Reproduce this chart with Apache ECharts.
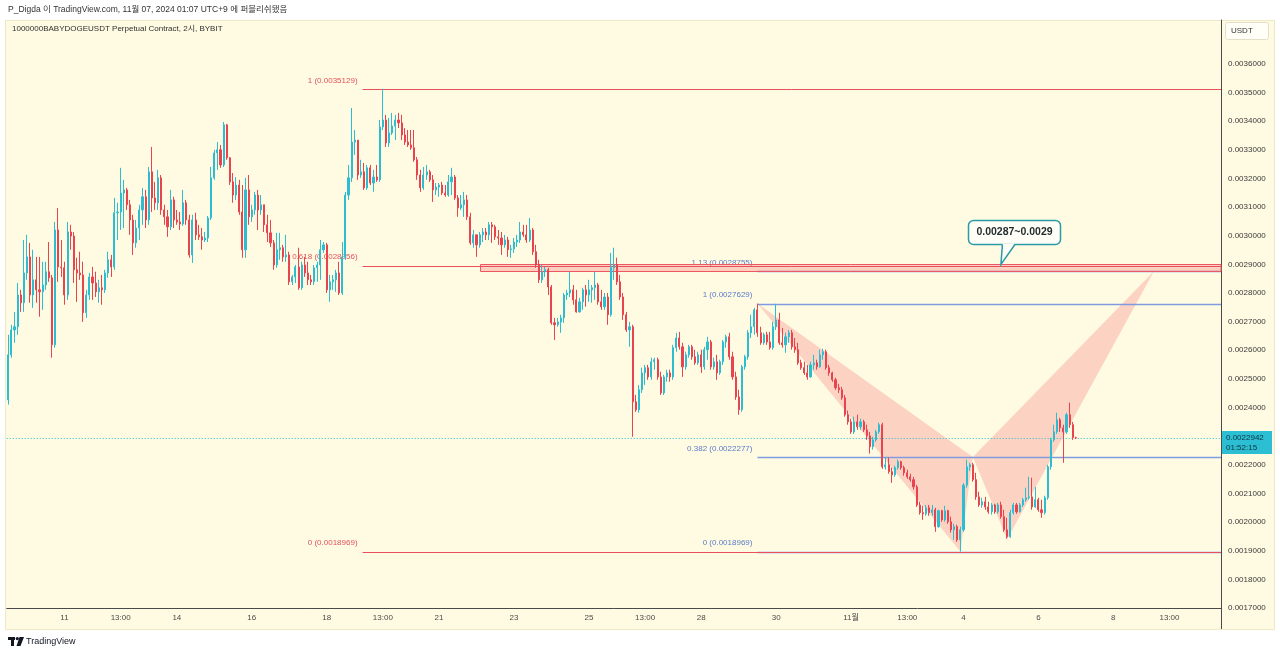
<!DOCTYPE html>
<html lang="ko">
<head>
<meta charset="utf-8">
<title>1000000BABYDOGEUSDT Perpetual Contract</title>
<script src="https://cdn.jsdelivr.net/npm/echarts@6.0.0/dist/echarts.min.js"></script>
<style>
html,body{margin:0;padding:0;width:1280px;height:654px;background:#ffffff;overflow:hidden;}
#frame{position:absolute;left:5px;top:20px;width:1270px;height:610px;background:#fffbe2;border:1px solid #efe9c8;box-sizing:border-box;}
#chart{position:absolute;left:0;top:0;width:1280px;height:654px;}
</style>
</head>
<body>
<div id="frame"></div>
<div id="chart"></div>
<script>
// ================= DATA =================
// 2-hour candles (UTC+9), first bar 2024-10-09 13:00, last bar 2024-11-07 01:00
const firstBarTime = [2024, 10, 9, 13];   // year, month, day, hour
const padBars = 46;                        // empty bars on the right side of the chart

const opens = [
0.002427,0.002584,0.002671,0.002682,0.002793,0.002766,0.002870,0.002926,0.002793,0.002846,
0.002811,0.002804,0.002828,0.002874,0.002853,0.002619,0.003020,0.002891,0.002888,0.002793,
0.003013,0.002999,0.002881,0.002870,0.002863,0.002731,0.002793,0.002856,0.002835,0.002804,
0.002818,0.002811,0.002870,0.002916,0.002891,0.003080,0.003083,0.003149,0.003160,0.003108,
0.003055,0.002975,0.003027,0.003090,0.003136,0.003055,0.003223,0.003132,0.003115,0.003202,
0.003090,0.003066,0.003031,0.003125,0.003055,0.003048,0.003041,0.003115,0.003055,0.002933,
0.003055,0.003003,0.002996,0.002985,0.002992,0.003062,0.003202,0.003289,0.003300,0.003247,
0.003387,0.003272,0.003188,0.003142,0.003177,0.003083,0.002951,0.003160,0.003066,0.003090,
0.003142,0.003090,0.003108,0.003038,0.003010,0.002975,0.002898,0.002951,0.002958,0.002926,
0.002933,0.002839,0.002856,0.002891,0.002818,0.002898,0.002870,0.002846,0.002839,0.002888,
0.002898,0.002951,0.002968,0.002811,0.002839,0.002846,0.002870,0.002800,0.002926,0.003142,
0.003202,0.003327,0.003334,0.003212,0.003223,0.003167,0.003237,0.003184,0.003205,0.003195,
0.003380,0.003404,0.003324,0.003359,0.003383,0.003404,0.003394,0.003352,0.003327,0.003317,
0.003307,0.003265,0.003212,0.003167,0.003212,0.003223,0.003195,0.003160,0.003170,0.003177,
0.003149,0.003142,0.003188,0.003205,0.003132,0.003097,0.003108,0.003125,0.003066,0.002975,
0.003003,0.002968,0.003003,0.003013,0.003003,0.003038,0.003031,0.002996,0.002992,0.002968,
0.002985,0.002951,0.002954,0.002978,0.002985,0.003013,0.003003,0.002985,0.003020,0.002944,
0.002898,0.002846,0.002874,0.002881,0.002821,0.002696,0.002689,0.002699,0.002713,0.002793,
0.002800,0.002811,0.002776,0.002734,0.002769,0.002811,0.002793,0.002811,0.002818,0.002828,
0.002769,0.002752,0.002786,0.002724,0.002888,0.002898,0.002839,0.002786,0.002724,0.002671,
0.002682,0.002420,0.002392,0.002462,0.002521,0.002539,0.002507,0.002560,0.002567,0.002507,
0.002451,0.002507,0.002521,0.002507,0.002609,0.002643,0.002612,0.002542,0.002584,0.002612,
0.002577,0.002556,0.002584,0.002542,0.002602,0.002629,0.002542,0.002560,0.002521,0.002560,
0.002629,0.002647,0.002577,0.002507,0.002437,0.002392,0.002542,0.002577,0.002661,0.002682,
0.002741,0.002661,0.002626,0.002654,0.002629,0.002609,0.002682,0.002706,0.002626,0.002619,
0.002647,0.002661,0.002612,0.002602,0.002556,0.002539,0.002521,0.002507,0.002549,0.002556,
0.002542,0.002584,0.002595,0.002539,0.002521,0.002497,0.002469,0.002462,0.002434,0.002375,
0.002350,0.002315,0.002350,0.002333,0.002350,0.002322,0.002301,0.002263,0.002287,0.002315,
0.002340,0.002193,0.002200,0.002176,0.002165,0.002190,0.002211,0.002190,0.002172,0.002158,
0.002148,0.002123,0.002060,0.002033,0.002029,0.002050,0.002033,0.002043,0.001984,0.002040,
0.002008,0.002040,0.002001,0.001973,0.001984,0.001938,0.001973,0.002129,0.002193,0.002200,
0.002148,0.002088,0.002060,0.002071,0.002053,0.002036,0.002060,0.002036,0.002060,0.002019,
0.001973,0.001949,0.002033,0.002060,0.002036,0.002060,0.002078,0.002085,0.002088,0.002053,
0.002078,0.002043,0.002033,0.002085,0.002193,0.002287,0.002315,0.002357,0.002329,0.002315,
0.002375,0.002340,0.002295];

const closes = [
0.002584,0.002671,0.002682,0.002793,0.002766,0.002870,0.002926,0.002793,0.002846,0.002811,
0.002804,0.002828,0.002874,0.002853,0.002619,0.003020,0.002891,0.002888,0.002793,0.003013,
0.002999,0.002881,0.002870,0.002863,0.002731,0.002793,0.002856,0.002835,0.002804,0.002818,
0.002811,0.002870,0.002916,0.002891,0.003080,0.003083,0.003149,0.003160,0.003108,0.003055,
0.002975,0.003027,0.003090,0.003136,0.003055,0.003223,0.003132,0.003115,0.003202,0.003090,
0.003066,0.003031,0.003125,0.003055,0.003048,0.003041,0.003115,0.003055,0.002933,0.003055,
0.003003,0.002996,0.002985,0.002992,0.003062,0.003202,0.003289,0.003300,0.003247,0.003387,
0.003272,0.003188,0.003142,0.003177,0.003083,0.002951,0.003160,0.003066,0.003090,0.003142,
0.003090,0.003108,0.003038,0.003010,0.002975,0.002898,0.002951,0.002958,0.002926,0.002933,
0.002839,0.002856,0.002891,0.002818,0.002898,0.002870,0.002846,0.002839,0.002888,0.002898,
0.002951,0.002968,0.002811,0.002839,0.002846,0.002870,0.002800,0.002926,0.003142,0.003202,
0.003327,0.003334,0.003212,0.003223,0.003167,0.003237,0.003184,0.003205,0.003195,0.003380,
0.003404,0.003324,0.003359,0.003383,0.003404,0.003394,0.003352,0.003327,0.003317,0.003307,
0.003265,0.003212,0.003167,0.003212,0.003223,0.003195,0.003160,0.003170,0.003177,0.003149,
0.003142,0.003188,0.003205,0.003132,0.003097,0.003108,0.003125,0.003066,0.002975,0.003003,
0.002968,0.003003,0.003013,0.003003,0.003038,0.003031,0.002996,0.002992,0.002968,0.002985,
0.002951,0.002954,0.002978,0.002985,0.003013,0.003003,0.002985,0.003020,0.002944,0.002898,
0.002846,0.002874,0.002881,0.002821,0.002696,0.002689,0.002699,0.002713,0.002793,0.002800,
0.002811,0.002776,0.002734,0.002769,0.002811,0.002793,0.002811,0.002818,0.002828,0.002769,
0.002752,0.002786,0.002724,0.002888,0.002898,0.002839,0.002786,0.002724,0.002671,0.002682,
0.002420,0.002392,0.002462,0.002521,0.002539,0.002507,0.002560,0.002567,0.002507,0.002451,
0.002507,0.002521,0.002507,0.002609,0.002643,0.002612,0.002542,0.002584,0.002612,0.002577,
0.002556,0.002584,0.002542,0.002602,0.002629,0.002542,0.002560,0.002521,0.002560,0.002629,
0.002647,0.002577,0.002507,0.002437,0.002392,0.002542,0.002577,0.002661,0.002682,0.002741,
0.002661,0.002626,0.002654,0.002629,0.002609,0.002682,0.002706,0.002626,0.002619,0.002647,
0.002661,0.002612,0.002602,0.002556,0.002539,0.002521,0.002507,0.002549,0.002556,0.002542,
0.002584,0.002595,0.002539,0.002521,0.002497,0.002469,0.002462,0.002434,0.002375,0.002350,
0.002315,0.002350,0.002333,0.002350,0.002322,0.002301,0.002263,0.002287,0.002315,0.002340,
0.002193,0.002200,0.002176,0.002165,0.002190,0.002211,0.002190,0.002172,0.002158,0.002148,
0.002123,0.002060,0.002033,0.002029,0.002050,0.002033,0.002043,0.001984,0.002040,0.002008,
0.002040,0.002001,0.001973,0.001984,0.001938,0.001973,0.002129,0.002193,0.002200,0.002148,
0.002088,0.002060,0.002071,0.002053,0.002036,0.002060,0.002036,0.002060,0.002019,0.001973,
0.001949,0.002033,0.002060,0.002036,0.002060,0.002078,0.002085,0.002088,0.002053,0.002078,
0.002043,0.002033,0.002085,0.002193,0.002287,0.002315,0.002357,0.002329,0.002315,0.002375,
0.002340,0.002295,0.0022942];

const highs = [
0.002654,0.002689,0.002734,0.002835,0.002811,0.002985,0.003003,0.002975,0.002951,0.002926,
0.002926,0.002909,0.002909,0.002978,0.002863,0.003048,0.003097,0.002985,0.002909,0.003048,
0.003038,0.003013,0.002923,0.002944,0.002909,0.002811,0.002870,0.002891,0.002874,0.002846,
0.002863,0.002881,0.002944,0.002933,0.003132,0.003115,0.003237,0.003195,0.003167,0.003125,
0.003073,0.003055,0.003108,0.003167,0.003160,0.003240,0.003310,0.003188,0.003230,0.003212,
0.003108,0.003090,0.003160,0.003136,0.003090,0.003083,0.003160,0.003125,0.003073,0.003073,
0.003080,0.003038,0.003027,0.003013,0.003069,0.003240,0.003300,0.003327,0.003317,0.003397,
0.003390,0.003275,0.003219,0.003205,0.003195,0.003177,0.003202,0.003212,0.003108,0.003153,
0.003160,0.003142,0.003108,0.003073,0.003055,0.002985,0.003010,0.003010,0.002968,0.003003,
0.002944,0.002863,0.002898,0.002958,0.002909,0.002926,0.002909,0.002863,0.002898,0.002909,
0.002985,0.002978,0.002975,0.002863,0.002863,0.002881,0.002909,0.002978,0.003153,0.003247,
0.003446,0.003369,0.003334,0.003265,0.003254,0.003247,0.003247,0.003230,0.003247,0.003404,
0.0035129,0.003422,0.003411,0.003429,0.003422,0.003429,0.003422,0.003376,0.003369,0.003369,
0.003369,0.003275,0.003230,0.003240,0.003247,0.003230,0.003212,0.003184,0.003184,0.003188,
0.003177,0.003212,0.003237,0.003212,0.003142,0.003142,0.003153,0.003142,0.003080,0.003020,
0.003003,0.003013,0.003027,0.003027,0.003048,0.003048,0.003038,0.003020,0.003013,0.003003,
0.002996,0.002968,0.002992,0.003003,0.003048,0.003038,0.003038,0.003062,0.003027,0.002968,
0.002916,0.002898,0.002891,0.002888,0.002828,0.002713,0.002713,0.002724,0.002800,0.002811,
0.002874,0.002828,0.002811,0.002783,0.002818,0.002828,0.002846,0.002828,0.002874,0.002835,
0.002811,0.002800,0.002800,0.002940,0.002958,0.002923,0.002863,0.002800,0.002734,0.002699,
0.002689,0.002444,0.002479,0.002539,0.002549,0.002549,0.002574,0.002574,0.002574,0.002525,
0.002514,0.002532,0.002532,0.002619,0.002661,0.002664,0.002626,0.002595,0.002619,0.002619,
0.002602,0.002595,0.002602,0.002612,0.002647,0.002636,0.002574,0.002584,0.002567,0.002636,
0.002654,0.002661,0.002595,0.002525,0.002462,0.002549,0.002584,0.002671,0.002724,0.002748,
0.0027629,0.002682,0.002661,0.002664,0.002664,0.002699,0.002762,0.002731,0.002678,0.002661,
0.002671,0.002671,0.002643,0.002626,0.002567,0.002560,0.002549,0.002560,0.002584,0.002567,
0.002602,0.002605,0.002602,0.002549,0.002525,0.002504,0.002483,0.002472,0.002444,0.002389,
0.002361,0.002368,0.002375,0.002361,0.002357,0.002340,0.002315,0.002298,0.002322,0.002347,
0.002347,0.002225,0.002225,0.002190,0.002197,0.002218,0.002214,0.002197,0.002183,0.002169,
0.002158,0.002130,0.002071,0.002057,0.002060,0.002060,0.002060,0.002050,0.002043,0.002043,
0.002057,0.002043,0.002019,0.001994,0.001991,0.001984,0.002136,0.002218,0.002207,0.002207,
0.002172,0.002106,0.002085,0.002088,0.002071,0.002067,0.002064,0.002067,0.002071,0.002043,
0.002015,0.002043,0.002067,0.002067,0.002067,0.002085,0.002120,0.002158,0.002155,0.002123,
0.002085,0.002078,0.002092,0.002200,0.002294,0.002340,0.002382,0.002364,0.002340,0.002382,
0.002417,0.002350,0.002298];

const lows = [
0.002410,0.002574,0.002626,0.002654,0.002734,0.002734,0.002846,0.002766,0.002748,0.002766,
0.002717,0.002741,0.002811,0.002839,0.002574,0.002609,0.002839,0.002856,0.002759,0.002776,
0.002951,0.002835,0.002769,0.002846,0.002699,0.002713,0.002776,0.002776,0.002786,0.002766,
0.002759,0.002800,0.002853,0.002856,0.002881,0.002985,0.003020,0.003027,0.003090,0.003003,
0.002933,0.002958,0.002985,0.003038,0.003027,0.003038,0.003083,0.003090,0.003090,0.003073,
0.003038,0.002996,0.003020,0.003027,0.003038,0.003020,0.003034,0.003038,0.002923,0.002905,
0.002985,0.002985,0.002951,0.002978,0.002978,0.003055,0.003195,0.003230,0.003237,0.003240,
0.003265,0.003177,0.003115,0.003125,0.003073,0.002923,0.002923,0.003038,0.003048,0.003073,
0.003020,0.003073,0.003013,0.002978,0.002961,0.002881,0.002888,0.002916,0.002909,0.002909,
0.002828,0.002828,0.002835,0.002811,0.002811,0.002856,0.002828,0.002828,0.002828,0.002839,
0.002846,0.002940,0.002800,0.002769,0.002811,0.002804,0.002793,0.002793,0.002916,0.003125,
0.003188,0.003282,0.003195,0.003202,0.003160,0.003160,0.003177,0.003153,0.003188,0.003188,
0.003369,0.003310,0.003310,0.003352,0.003334,0.003376,0.003334,0.003317,0.003310,0.003300,
0.003258,0.003195,0.003153,0.003160,0.003195,0.003188,0.003118,0.003142,0.003136,0.003142,
0.003136,0.003136,0.003142,0.003125,0.003066,0.003090,0.003066,0.003055,0.002968,0.002958,
0.002926,0.002958,0.002978,0.002985,0.002985,0.002975,0.002985,0.002968,0.002933,0.002958,
0.002926,0.002923,0.002940,0.002961,0.002975,0.002996,0.002975,0.002978,0.002933,0.002888,
0.002835,0.002835,0.002856,0.002793,0.002689,0.002636,0.002682,0.002661,0.002696,0.002776,
0.002786,0.002759,0.002731,0.002731,0.002741,0.002752,0.002769,0.002766,0.002776,0.002759,
0.002741,0.002741,0.002689,0.002717,0.002846,0.002828,0.002776,0.002706,0.002664,0.002612,
0.002298,0.002385,0.002382,0.002451,0.002479,0.002497,0.002497,0.002532,0.002497,0.002444,
0.002444,0.002490,0.002490,0.002497,0.002595,0.002602,0.002507,0.002532,0.002574,0.002567,
0.002549,0.002549,0.002521,0.002532,0.002567,0.002532,0.002532,0.002497,0.002514,0.002549,
0.002609,0.002567,0.002497,0.002427,0.002375,0.002385,0.002532,0.002567,0.002643,0.002654,
0.002647,0.002619,0.002619,0.002619,0.002602,0.002602,0.002671,0.002619,0.002609,0.002591,
0.002626,0.002602,0.002591,0.002549,0.002532,0.002514,0.002497,0.002504,0.002532,0.002532,
0.002539,0.002567,0.002532,0.002511,0.002490,0.002462,0.002451,0.002427,0.002368,0.002340,
0.002308,0.002308,0.002322,0.002322,0.002315,0.002287,0.002239,0.002253,0.002280,0.002308,
0.002186,0.002183,0.002169,0.002137,0.002158,0.002183,0.002183,0.002162,0.002151,0.002141,
0.002113,0.002053,0.002026,0.002008,0.002022,0.002022,0.002022,0.001966,0.001980,0.002001,
0.002001,0.001994,0.001963,0.001938,0.001931,0.0018969,0.001966,0.002120,0.002179,0.002141,
0.002078,0.002053,0.002050,0.002043,0.002029,0.002026,0.002029,0.002029,0.002012,0.001966,
0.001942,0.001945,0.002026,0.002029,0.002033,0.002053,0.002071,0.002078,0.002043,0.002050,
0.002036,0.002015,0.002026,0.002078,0.002183,0.002280,0.002308,0.002315,0.002207,0.002308,
0.002329,0.002287,0.002290];

// x-axis tick labels (category -> text)
const xTickCats  = ['10-11 01:00','10-12 13:00','10-14 01:00','10-16 01:00','10-18 01:00','10-19 13:00',
                    '10-21 01:00','10-23 01:00','10-25 01:00','10-26 13:00','10-28 01:00','10-30 01:00',
                    '11-01 01:00','11-02 13:00','11-04 01:00','11-06 01:00','11-08 01:00','11-09 13:00'];
const xTickTexts = ['11','13:00','14','16','18','13:00','21','23','25','13:00','28','30',
                    '11월','13:00','4','6','8','13:00'];

// y-axis
const yMin = 0.0017, yMax = 0.0037532, yStep = 0.0001;
const yHiddenTicks = [23, 37];   // covered by price tag / USDT box (in units of yStep)

// Fibonacci retracement (red): high 0.0035129 -> low 0.0018969
const redFibRatios = ['1', '0.618', '0'];
const redFibPrices = [0.0035129, 0.0028956, 0.0018969];
const redFibStartBar = 114;

// Fibonacci extension (blue)
const blueFibRatios = ['1.13', '1', '0.382', '0'];
const blueFibPrices = [0.0028755, 0.0027629, 0.0022277, 0.0018969];
const blueFibStartBar = 240;

// target zone rectangle
const zoneStartBar = 151;
const zonePrices = [0.0029, 0.0028755];

// harmonic pattern points X, A, B, C, D
const patternBars   = [240, 305, 309, 320, 367];
const patternPrices = [0.0027629, 0.0018969, 0.0022277, 0.00194, 0.0028755];

// callout
const calloutText = '0.00287~0.0029';
const calloutBar = 318;
const calloutPrice = 0.0029;

// last price tag
const lastPrice = 0.0022942;
const countdown = '01:52:15';

// ================= BUILD =================
function pad2(n){ return (n < 10 ? '0' : '') + n; }
const totalBars = opens.length + padBars;
const t0 = Date.UTC(firstBarTime[0], firstBarTime[1] - 1, firstBarTime[2], firstBarTime[3]);
const categories = [];
for (let i = 0; i < totalBars; i++) {
  const d = new Date(t0 + i * 7200000);
  categories.push(pad2(d.getUTCMonth() + 1) + '-' + pad2(d.getUTCDate()) + ' ' + pad2(d.getUTCHours()) + ':00');
}
const tickText = {};
xTickCats.forEach((c, i) => { tickText[c] = xTickTexts[i]; });

const candles = opens.map((o, i) => [o, closes[i], lows[i], highs[i]]);

const FONT = '"Liberation Sans", Arial, "Noto Sans CJK KR", sans-serif';
const UP = '#2dbdd1', DOWN = '#e8434f';
const RED_LINE = '#ea4f5c', RED_TEXT = '#e2525f';
const BLUE_LINE = '#7f9ade', BLUE_TEXT = '#5b7cc8';

const crisp = v => Math.round(v) + 0.5;

function renderBack(params, api) {
  const cs = params.coordSys;
  const right = cs.x + cs.width;
  const bw = api.size([1, 0])[0];
  const pt = (bar, price) => api.coord([bar, price]);
  const kids = [];
  // harmonic pattern
  const v = patternBars.map((b, i) => pt(b, patternPrices[i]));
  kids.push({type: 'polygon', shape: {points: [v[0], v[1], v[2]]}, style: {fill: 'rgba(242,54,69,0.2)'}});
  kids.push({type: 'polygon', shape: {points: [v[2], v[3], v[4]]}, style: {fill: 'rgba(242,54,69,0.2)'}});
  // blue fib lines
  blueFibPrices.forEach((p, i) => {
    const a = pt(blueFibStartBar, p);
    const y = crisp(a[1]);
    kids.push({type: 'line', shape: {x1: a[0], y1: y, x2: right, y2: y}, style: {stroke: BLUE_LINE, lineWidth: 1.3}});
    kids.push({type: 'text', x: a[0] - 5, y: a[1] - 8.5, style: {text: blueFibRatios[i] + ' (' + p.toFixed(7) + ')', fill: BLUE_TEXT, fontSize: 8, fontFamily: FONT, align: 'right', verticalAlign: 'middle'}});
  });
  // zone
  const zt = pt(zoneStartBar, zonePrices[0]), zb = pt(zoneStartBar, zonePrices[1]);
  kids.push({type: 'rect', shape: {x: crisp(zt[0]), y: crisp(zt[1]), width: right - crisp(zt[0]), height: Math.round(zb[1] - zt[1])},
    style: {fill: 'rgba(242,54,69,0.22)', stroke: '#ee5663', lineWidth: 1}});
  // red fib lines
  redFibPrices.forEach((p, i) => {
    const a = pt(redFibStartBar, p);
    const x0 = a[0] - bw / 2;
    const y = crisp(a[1]);
    kids.push({type: 'line', shape: {x1: x0, y1: y, x2: right, y2: y}, style: {stroke: RED_LINE, lineWidth: 1}});
    kids.push({type: 'text', x: x0 - 5, y: a[1] - 8.5, style: {text: redFibRatios[i] + ' (' + p.toFixed(7) + ')', fill: RED_TEXT, fontSize: 8, fontFamily: FONT, align: 'right', verticalAlign: 'middle'}});
  });
  // last price dotted line
  const lp = pt(0, lastPrice);
  kids.push({type: 'line', shape: {x1: cs.x, y1: crisp(lp[1]), x2: right, y2: crisp(lp[1])}, style: {stroke: '#2bb7cb', lineWidth: 1, lineDash: [1, 2]}});
  return {type: 'group', children: kids};
}

function renderFront(params, api) {
  const cs = params.coordSys;
  const right = cs.x + cs.width;
  const kids = [];
  // callout
  const tip = api.coord([calloutBar, calloutPrice]);
  const bx = Math.round(tip[0] - 33) + 0.5, by = Math.round(tip[1] - 44) + 0.5, bwid = 92, bh = 24;
  kids.push({type: 'rect', shape: {x: bx, y: by, width: bwid, height: bh, r: 5}, style: {fill: '#fffef6', stroke: '#2a9aa8', lineWidth: 1.5}});
  kids.push({type: 'polygon', shape: {points: [[tip[0] + 1.5, by + bh - 1], [tip[0] + 14, by + bh - 1], [tip[0], tip[1]]]}, style: {fill: '#fffef6'}});
  kids.push({type: 'polyline', shape: {points: [[tip[0] + 1.5, by + bh], [tip[0], tip[1]], [tip[0] + 14, by + bh]]}, style: {stroke: '#2a9aa8', lineWidth: 1.5, fill: null}});
  kids.push({type: 'text', x: bx + bwid / 2, y: by + bh / 2, style: {text: calloutText, fill: '#1f2a2c', fontSize: 10.5, fontWeight: 'bold', fontFamily: FONT, align: 'center', verticalAlign: 'middle'}});
  // price tag on axis
  const lp = api.coord([0, lastPrice]);
  const ty = Math.round(lp[1]) - 7;
  kids.push({type: 'rect', shape: {x: right + 1, y: ty, width: 50, height: 23}, style: {fill: '#2cbfd3'}});
  kids.push({type: 'text', x: right + 5, y: ty + 7, style: {text: lastPrice.toFixed(7), fill: '#10323f', fontSize: 8, fontFamily: FONT, align: 'left', verticalAlign: 'middle'}});
  kids.push({type: 'text', x: right + 5, y: ty + 17, style: {text: countdown, fill: '#10323f', fontSize: 8, fontFamily: FONT, align: 'left', verticalAlign: 'middle'}});
  return {type: 'group', children: kids};
}

const chart = echarts.init(document.getElementById('chart'), null, {renderer: 'canvas', width: 1280, height: 654, devicePixelRatio: 1});

const option = {
  backgroundColor: 'transparent',
  animation: false,
  textStyle: {fontFamily: FONT},
  grid: {left: 6.7, right: 59, top: 20, bottom: 46, containLabel: false},
  xAxis: {
    type: 'category',
    data: categories,
    boundaryGap: true,
    axisLine: {show: true, lineStyle: {color: '#4a4a4a', width: 1}},
    axisTick: {show: false},
    splitLine: {show: false},
    axisLabel: {
      interval: (idx, val) => tickText[val] !== undefined,
      formatter: (val) => tickText[val] || '',
      color: '#4a4a4a', fontSize: 8, margin: 6, fontFamily: FONT, hideOverlap: false
    }
  },
  yAxis: {
    type: 'value',
    position: 'right',
    min: yMin, max: yMax, interval: yStep,
    scale: true,
    axisLine: {show: true, lineStyle: {color: '#4a4a4a', width: 1}},
    axisTick: {show: false},
    splitLine: {show: false},
    axisLabel: {
      color: '#3a3a3a', fontSize: 8, margin: 7, fontFamily: FONT, showMaxLabel: false,
      formatter: (v) => {
        const k = Math.round(v / yStep);
        if (Math.abs(v - k * yStep) > 1e-9) return '';
        if (yHiddenTicks.indexOf(k) >= 0) return '';
        return (k * yStep).toFixed(7);
      }
    }
  },
  graphic: [
    {type: 'text', x: 8, y: 10, style: {text: 'P_Digda 이 TradingView.com, 11월 07, 2024 01:07 UTC+9 에 퍼블리쉬됐음', fill: '#333333', fontSize: 8.5, fontFamily: FONT, verticalAlign: 'middle'}},
    {type: 'text', x: 12, y: 29, style: {text: '1000000BABYDOGEUSDT Perpetual Contract, 2시, BYBIT', fill: '#2f2f2f', fontSize: 8, fontFamily: FONT, verticalAlign: 'middle'}},
    {type: 'rect', shape: {x: 1225.5, y: 22.5, width: 43, height: 17, r: 2}, style: {fill: '#fffff8', stroke: '#e4e0c8', lineWidth: 1}},
    {type: 'text', x: 1231, y: 31, style: {text: 'USDT', fill: '#333333', fontSize: 8, fontFamily: FONT, verticalAlign: 'middle'}},
    {type: 'line', shape: {x1: 1221.5, y1: 608, x2: 1221.5, y2: 629}, style: {stroke: '#4a4a4a', lineWidth: 1}},
    // TradingView logo
    {type: 'rect', shape: {x: 8, y: 637, width: 7, height: 3}, style: {fill: '#131722'}},
    {type: 'rect', shape: {x: 11, y: 637, width: 3, height: 9}, style: {fill: '#131722'}},
    {type: 'circle', shape: {cx: 17.3, cy: 638.6, r: 1.6}, style: {fill: '#131722'}},
    {type: 'polygon', shape: {points: [[19.5, 637], [24, 637], [20.5, 646], [16.5, 646]]}, style: {fill: '#131722'}},
    {type: 'text', x: 26, y: 641.5, style: {text: 'TradingView', fill: '#131722', fontSize: 9, fontFamily: FONT, verticalAlign: 'middle'}}
  ],
  series: [
    {
      type: 'custom', name: 'drawings', z: 1, silent: true,
      renderItem: renderBack,
      data: [[0, lastPrice]]
    },
    {
      type: 'candlestick', name: '1000000BABYDOGEUSDT', z: 2,
      data: candles,
      barWidth: 1.6,
      itemStyle: {color: UP, color0: DOWN, borderColor: UP, borderColor0: DOWN, borderWidth: 1},
      silent: true
    },
    {
      type: 'custom', name: 'labels', z: 5, silent: true,
      renderItem: renderFront,
      data: [[0, lastPrice]]
    }
  ]
};
chart.setOption(option);
</script>
</body>
</html>
